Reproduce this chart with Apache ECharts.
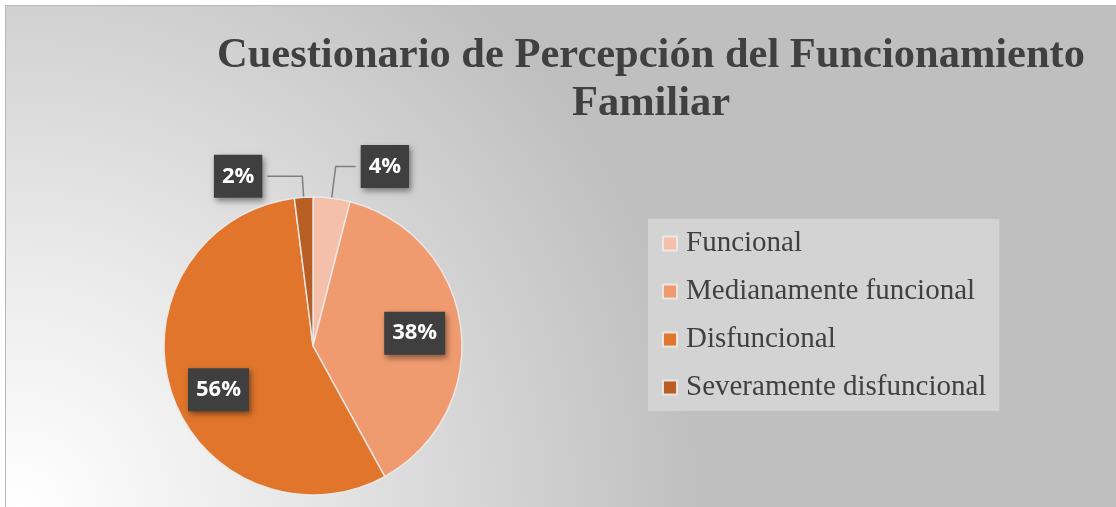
<!DOCTYPE html>
<html>
<head>
<meta charset="utf-8">
<script src="https://cdn.jsdelivr.net/npm/echarts@6/dist/echarts.min.js"></script>
<style>
  html, body { margin: 0; padding: 0; background: #fff; }
  #chart { width: 1116px; height: 507px; }
</style>
</head>
<body>
<div id="chart"></div>
<script>
// datos del gráfico
var categorias = ['Funcional', 'Medianamente funcional', 'Disfuncional', 'Severamente disfuncional'];
var porcentajes = [4, 38, 56, 2];
var colores = ['#f5c0a9', '#f09b6f', '#e0752b', '#b95e22'];

var chart = echarts.init(document.getElementById('chart'));

// ajustes de las etiquetas: afuera con línea guía o adentro
var ajustes = {
  'Funcional': { fuera: true, largo: 32, largo2: 20 },
  'Medianamente funcional': { fuera: false },
  'Disfuncional': { fuera: false, offset: [3, 12] },
  'Severamente disfuncional': { fuera: true, largo: 21, largo2: 35 }
};

var cajaEtiqueta = {
  color: '#fff',
  fontFamily: 'Open Sans',
  fontWeight: 'bold',
  fontSize: 22,
  backgroundColor: '#3f3f3f',
  padding: [11, 8, 10, 8],
  shadowColor: 'rgba(0,0,0,0.45)',
  shadowBlur: 6,
  shadowOffsetX: 2,
  shadowOffsetY: 3,
  formatter: '{d}%'
};

var datosFuera = categorias.map(function (c, i) {
  var a = ajustes[c];
  return {
    name: c,
    value: porcentajes[i],
    itemStyle: { color: colores[i] },
    label: { show: a.fuera },
    labelLine: { show: a.fuera, length: a.largo || 0, length2: a.largo2 || 0 }
  };
});

var datosDentro = categorias.map(function (c, i) {
  var a = ajustes[c];
  return {
    name: c,
    value: porcentajes[i],
    label: { show: !a.fuera, offset: a.offset || [0, 0] }
  };
});

var option = {
  animation: false,
  graphic: [{
    type: 'rect',
    z: -10,
    shape: { x: 5.5, y: 5.5, width: 1120, height: 510 },
    style: {
      fill: {
        type: 'radial', x: 20, y: 507, r: 680, global: true,
        colorStops: [
          { offset: 0, color: '#ffffff' },
          { offset: 0.35, color: '#ebebeb' },
          { offset: 1, color: '#bfbfbf' }
        ]
      },
      stroke: '#b8b8b8',
      lineWidth: 1
    }
  }],
  title: {
    text: 'Cuestionario de Percepción del Funcionamiento\nFamiliar',
    left: 646,
    top: 27,
    textAlign: 'center',
    textStyle: {
      fontFamily: 'Liberation Serif',
      fontWeight: 'bold',
      fontSize: 42.5,
      lineHeight: 48,
      color: '#404040'
    }
  },
  legend: {
    orient: 'vertical',
    left: 648,
    top: 219,
    padding: [10, 13, 9, 14],
    backgroundColor: '#d3d3d3',
    icon: 'rect',
    itemWidth: 14,
    itemHeight: 14,
    itemGap: 19,
    data: categorias,
    textStyle: {
      fontFamily: 'Liberation Serif',
      fontSize: 29,
      color: '#404040',
      padding: [0, 0, 0, 4]
    }
  },
  series: [{
    type: 'pie',
    center: [313, 346],
    radius: [0, 149],
    startAngle: 90,
    clockwise: true,
    avoidLabelOverlap: false,
    itemStyle: { borderColor: 'rgba(235,235,235,0.9)', borderWidth: 1.5 },
    label: Object.assign({ position: 'outside' }, cajaEtiqueta),
    labelLine: {
      lineStyle: { color: '#7f7f7f', width: 1.5 }
    },
    data: datosFuera
  }, {
    type: 'pie',
    center: [313, 346],
    radius: [50, 149],
    startAngle: 90,
    clockwise: true,
    silent: true,
    itemStyle: { color: 'rgba(0,0,0,0)' },
    label: Object.assign({ position: 'inside' }, cajaEtiqueta),
    labelLine: { show: false },
    data: datosDentro
  }]
};

chart.setOption(option);
</script>
</body>
</html>
